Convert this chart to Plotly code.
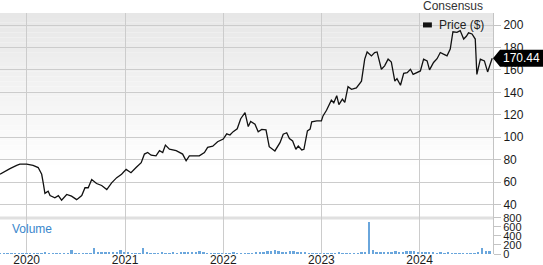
import plotly.graph_objects as go
import pandas as pd

# ---------------- data ----------------
price_dates = [
    "2019-09-24", "2019-10-06", "2019-10-31", "2019-11-25", "2019-12-07", "2020-01-01",
    "2020-01-25", "2020-02-13", "2020-02-26", "2020-03-03", "2020-03-09", "2020-03-21",
    "2020-03-28", "2020-04-15", "2020-04-28", "2020-05-10", "2020-05-29", "2020-06-16",
    "2020-07-05", "2020-07-24", "2020-08-05", "2020-08-17", "2020-08-30", "2020-09-17",
    "2020-10-06", "2020-10-25", "2020-11-12", "2020-12-01", "2020-12-19",
    "2021-01-05", "2021-01-23", "2021-02-11", "2021-03-02", "2021-03-14", "2021-03-26",
    "2021-04-08", "2021-04-26", "2021-05-09", "2021-05-21", "2021-05-31", "2021-06-15",
    "2021-07-10", "2021-08-03", "2021-08-16", "2021-08-28", "2021-09-16", "2021-10-04",
    "2021-10-23", "2021-11-04", "2021-11-23", "2021-12-11",
    "2022-01-01", "2022-01-14", "2022-01-26", "2022-02-07", "2022-02-22", "2022-03-07",
    "2022-03-23", "2022-04-04", "2022-04-13", "2022-04-29", "2022-05-11", "2022-05-24",
    "2022-06-09", "2022-06-21", "2022-07-12", "2022-07-31", "2022-08-12", "2022-08-25",
    "2022-09-04", "2022-09-16", "2022-09-28", "2022-10-07", "2022-10-20", "2022-10-28",
    "2022-11-10", "2022-11-20", "2022-11-26", "2022-12-15",
    "2023-01-01", "2023-01-07", "2023-01-20", "2023-02-07", "2023-02-16", "2023-02-27",
    "2023-03-07", "2023-03-20", "2023-03-29", "2023-04-10", "2023-04-23", "2023-05-11",
    "2023-05-30", "2023-06-11", "2023-06-20", "2023-07-06", "2023-07-18", "2023-07-27",
    "2023-08-12", "2023-08-24", "2023-09-06", "2023-09-18", "2023-10-01", "2023-10-09",
    "2023-10-22", "2023-11-03", "2023-11-16", "2023-11-28", "2023-12-08", "2023-12-21",
    "2024-01-04", "2024-01-16", "2024-01-29", "2024-02-07", "2024-02-22", "2024-03-06",
    "2024-03-18", "2024-03-30", "2024-04-12", "2024-04-24", "2024-05-04", "2024-05-19",
    "2024-05-31", "2024-06-13", "2024-06-23", "2024-07-01", "2024-07-14", "2024-07-26",
    "2024-08-01", "2024-08-14", "2024-08-29", "2024-09-10", "2024-09-20", "2024-09-27",
]
price_values = [
    67, 68.4, 72, 75, 76, 76,
    75, 73, 67, 59, 50, 52,
    48, 46, 48, 44, 49, 47.5,
    44.4, 48, 55, 55, 62.4, 58.8,
    57, 53.4, 59.4, 64, 67,
    71.4, 68.4, 73, 77.4, 85, 86.4,
    84, 83.4, 88, 86.4, 93, 89.4,
    88, 85, 79, 83.4, 83.4, 83.4,
    86.4, 91, 92, 96,
    98.4, 103, 102, 105, 107.5, 116.5,
    122, 109.5, 114, 111.6, 104.8, 107,
    106.6, 91.6, 87.8, 95.2, 102.7, 104,
    98.8, 96.7, 89.3, 92.2, 88.7, 89.3,
    105.7, 107.2, 113.7, 114.6,
    114.6, 119, 124, 133, 130.7, 137,
    129, 134, 131, 145, 142.7, 144,
    150, 169.6, 176, 172.5, 175.5, 176,
    160.6, 163.6, 169.6, 167, 150, 152.2,
    146.3, 157, 157.6, 160.6, 156, 157.6,
    159.1, 169.6, 168, 160, 166.6, 170,
    175.5, 174, 172.5, 178.5, 194, 193.4,
    195, 187.5, 190, 193, 192, 187.5,
    156, 169.6, 168, 158.2, 166.6, 170.44,
]
last_price = 170.44

vol_start = "2019-09-24"
vol_values = [
    12, 10, 12, 10, 14, 12, 10, 12, 14, 12,
    15, 20, 37, 25, 18, 15, 20, 25, 30, 90,
    25, 20, 18, 15, 20, 135, 45, 40, 45, 40,
    45, 50, 90, 40, 45, 30, 28, 30, 135, 35,
    25, 30, 28, 35, 30, 25, 35, 30, 40, 35,
    40, 45, 40, 75, 35, 25, 30, 25, 30, 20,
    25, 30, 40, 25, 30, 20, 25, 30, 35, 40,
    55, 65, 70, 90, 60, 45, 50, 75, 60, 55,
    45, 40, 30, 25, 20, 25, 20, 25, 30, 25,
    45, 30, 25, 30, 25, 30, 35, 40, 720, 90,
    45, 40, 50, 35, 45, 75, 40, 35, 70, 60,
    75, 45, 40, 45, 35, 40, 30, 35, 30, 40,
    25, 30, 25, 30, 25, 30, 25, 35, 135, 60,
    75,
]
vol_dates = pd.date_range(vol_start, periods=len(vol_values), freq="14D")

price_ticks = [40, 60, 80, 100, 120, 140, 160, 180, 200]
vol_ticks = [0, 200, 400, 600, 800]

# ---------------- figure ----------------
FONT = "Liberation Sans, Arial, sans-serif"
VOL_TOP = 0.1494

fig = go.Figure()
fig.add_trace(go.Bar(
    x=vol_dates, y=vol_values, yaxis="y2",
    marker=dict(color="#6aa6dc", line=dict(width=0)),
    width=9 * 86400000, showlegend=False, hoverinfo="skip",
))
fig.add_trace(go.Scatter(
    x=price_dates, y=price_values, mode="lines",
    line=dict(color="#111111", width=1.3), showlegend=False,
))

shapes = []
# background gradient of the price pane
nb = 32
top, bottom = 1.0, 0.35
for i in range(nb):
    g = int(round(231 + (255 - 231) * i / (nb - 1)))
    y1 = top - (top - bottom) * i / nb
    y0 = top - (top - bottom) * (i + 1) / nb
    shapes.append(dict(type="rect", xref="paper", yref="paper", x0=0, x1=1,
                       y0=y0, y1=y1, fillcolor=f"rgb({g},{g},{g})",
                       line=dict(width=0), layer="below"))
# separator between price and volume panes
shapes.append(dict(type="line", xref="paper", yref="paper", x0=0, x1=1,
                   y0=VOL_TOP, y1=VOL_TOP, line=dict(color="#e0e0e0", width=3),
                   layer="below"))
# legend swatch
shapes.append(dict(type="rect", xref="paper", yref="paper", x0=0.858, x1=0.876,
                   y0=0.940, y1=0.961, fillcolor="#111111", line=dict(width=0)))
# last price tag
shapes.append(dict(type="path", xref="paper", yref="y", xsizemode="pixel",
                   ysizemode="pixel", xanchor=1, yanchor=last_price,
                   path="M 0 0 L 7 8.5 L 50 8.5 L 50 -8.5 L 7 -8.5 Z",
                   fillcolor="#000000", line=dict(width=0), layer="above"))

annotations = [
    dict(text="Consensus", xref="paper", yref="paper", x=0.919, y=1.031,
         xanchor="center", yanchor="middle", showarrow=False,
         font=dict(family=FONT, size=12, color="#333333")),
    dict(text="Price ($)", xref="paper", yref="paper", x=0.886, y=0.950,
         xanchor="left", yanchor="middle", showarrow=False,
         font=dict(family=FONT, size=12, color="#222222")),
    dict(text="Volume", xref="paper", yref="paper", x=0.02, y=0.104,
         xanchor="left", yanchor="middle", showarrow=False,
         font=dict(family=FONT, size=12, color="#3a87cc")),
    dict(text=f"{last_price:.2f}", xref="paper", yref="y", x=1, y=last_price,
         xanchor="left", yanchor="middle", xshift=8, showarrow=False,
         font=dict(family=FONT, size=12, color="#ffffff")),
]

fig.update_layout(
    width=543, height=265, autosize=False,
    margin=dict(l=0, r=50, t=13, b=11, pad=0),
    paper_bgcolor="#ffffff", plot_bgcolor="#ffffff",
    bargap=0, showlegend=False,
    shapes=shapes, annotations=annotations,
    font=dict(family=FONT, size=12, color="#1a1a1a"),
    xaxis=dict(
        type="date", range=["2019-09-24", "2024-09-30"], anchor="y2",
        dtick="M12", tick0="2020-01-01", tickformat="%Y",
        showgrid=True, gridcolor="#cccccc", gridwidth=1,
        ticks="", showline=False, zeroline=False, automargin=False,
        ticklabelstandoff=-3,
        tickfont=dict(family=FONT, size=12, color="#1a1a1a"),
    ),
    yaxis=dict(
        domain=[VOL_TOP, 1], range=[28.06, 210.7], side="right", anchor="x",
        tickvals=price_ticks, showgrid=True, gridcolor="#cccccc", gridwidth=1,
        ticks="outside", ticklen=7, tickcolor="#c4c4c4",
        showline=True, linecolor="#c4c4c4", linewidth=1,
        zeroline=False, automargin=False,
        tickfont=dict(family=FONT, size=12, color="#1a1a1a"),
    ),
    yaxis2=dict(
        domain=[0, VOL_TOP], range=[0, 800], side="right", anchor="x",
        tickvals=vol_ticks, showgrid=False,
        ticks="outside", ticklen=7, tickcolor="#c4c4c4",
        showline=True, linecolor="#c4c4c4", linewidth=1,
        zeroline=False, automargin=False,
        tickfont=dict(family=FONT, size=11, color="#1a1a1a"),
    ),
)

fig.write_html("out.html")
